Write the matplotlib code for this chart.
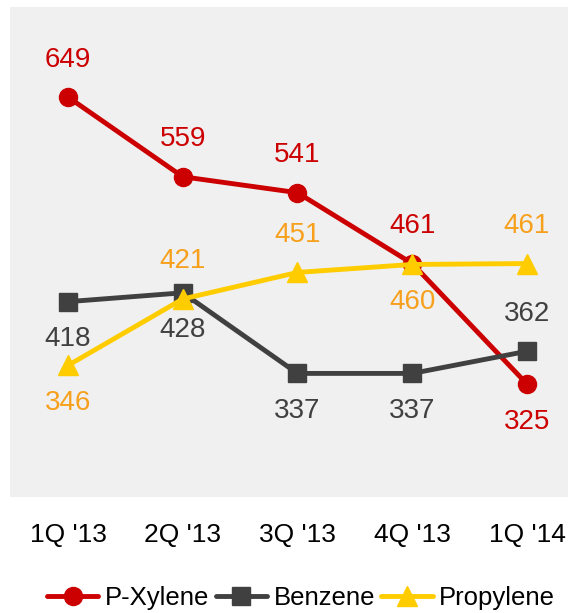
import matplotlib.pyplot as plt
from matplotlib import font_manager

# Data
quarters = ["1Q '13", "2Q '13", "3Q '13", "4Q '13", "1Q '14"]
p_xylene = [649, 559, 541, 461, 325]
benzene = [418, 428, 337, 337, 362]
propylene = [346, 421, 451, 460, 461]

# label placement per point: +1 above, -1 below
pxy_pos = [1, 1, 1, 1, -1]
ben_pos = [-1, -1, -1, -1, 1]
pro_pos = [-1, 1, 1, -1, 1]

names = {f.name for f in font_manager.fontManager.ttflist}
narrow = "Liberation Sans Narrow" if "Liberation Sans Narrow" in names else "Liberation Sans"
plt.rcParams["font.family"] = [narrow, "DejaVu Sans"]

RED = "#CC0000"
GREY = "#404040"
YELLOW = "#FFCC00"
ORANGE = "#F7A01C"

fig = plt.figure(figsize=(5.68, 6.13), dpi=100)
ax = fig.add_axes([10 / 568, 116 / 613, 558 / 568, 490 / 613])
ax.set_facecolor("#F0F0F0")

x = list(range(len(quarters)))
series = [
    ("P-Xylene", p_xylene, pxy_pos, RED, RED, "o", 13),
    ("Benzene", benzene, ben_pos, GREY, GREY, "s", 12.5),
    ("Propylene", propylene, pro_pos, YELLOW, ORANGE, "^", 14),
]
for name, vals, pos, col, lcol, mk, ms in series:
    ax.plot(x, vals, color=col, lw=3.5, marker=mk, ms=ms, label=name,
            solid_capstyle="round")
    for xi, v, p in zip(x, vals, pos):
        ax.annotate(str(v), (xi, v), xytext=(0, 27 * p), textcoords="offset points",
                    ha="center", va="center", fontsize=20, color=lcol)

ax.set_xlim(-0.505, 4.357)
ax.set_ylim(197.5, 750.6)
ax.set_yticks([])
ax.set_xticks(x)
ax.set_xticklabels(quarters, fontsize=19)
ax.tick_params(axis="x", length=0, pad=19)
for s in ax.spines.values():
    s.set_visible(False)

fig.legend(loc="center", bbox_to_anchor=(0.53, 0.025), ncol=3, frameon=False,
           fontsize=18.5, handlelength=2.0, handletextpad=0.25, columnspacing=0.25,
           borderaxespad=0, borderpad=0)

fig.savefig("out.png", dpi=100)
